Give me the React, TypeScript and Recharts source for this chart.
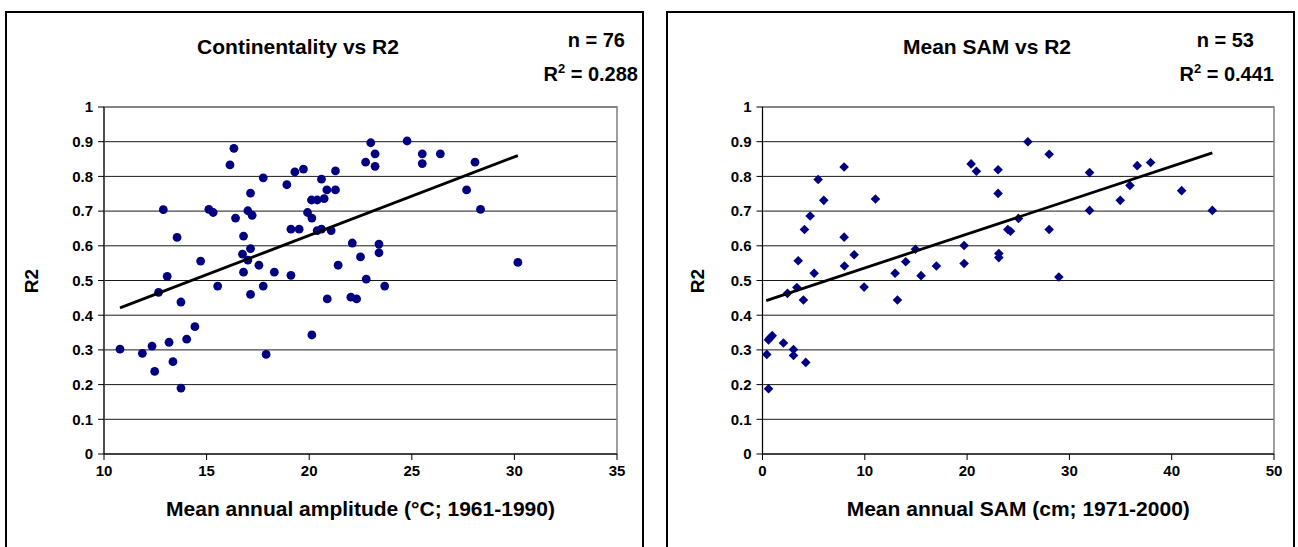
import React from "react";
import { ScatterChart, Scatter, XAxis, YAxis, CartesianGrid, ReferenceArea } from "recharts";

const FONT = '"Liberation Sans", Arial, sans-serif';

// Continentality vs R2 (n = 76)
const contAmplitude = [
  12.89, 13.56, 13.08, 12.66, 14.71, 15.11, 15.32, 15.54, 16.33, 16.14,
  16.41, 17.14, 17.01, 17.22, 16.8, 17.14, 16.75, 17.01, 16.8, 17.55,
  17.76, 17.76, 18.3, 18.91, 19.3, 19.72, 19.11, 19.51, 19.11, 20.6,
  20.86, 21.28, 21.28, 20.11, 20.39, 20.73, 19.92, 20.13, 20.39, 20.6,
  21.07, 21.41, 22.1, 22.5, 22.75, 22.78, 10.78, 11.87, 12.34, 12.47,
  13.17, 13.36, 13.75, 14.03, 14.43, 13.75, 17.14, 17.9, 20.13, 20.88,
  22.03, 22.31, 23.0, 24.77, 23.21, 23.21, 25.51, 25.51, 26.39, 28.08,
  27.67, 28.35, 23.4, 23.4, 23.68, 30.17,
];
const contR2 = [
  0.704, 0.624, 0.512, 0.466, 0.556, 0.705, 0.696, 0.484, 0.881, 0.833,
  0.68, 0.752, 0.701, 0.688, 0.628, 0.592, 0.576, 0.559, 0.524, 0.544,
  0.796, 0.484, 0.524, 0.776, 0.813, 0.821, 0.648, 0.648, 0.515, 0.792,
  0.761, 0.761, 0.816, 0.732, 0.732, 0.736, 0.696, 0.68, 0.644, 0.648,
  0.644, 0.544, 0.608, 0.568, 0.841, 0.504, 0.302, 0.29, 0.311, 0.238,
  0.322, 0.266, 0.438, 0.331, 0.367, 0.19, 0.46, 0.287, 0.343, 0.447,
  0.452, 0.447, 0.897, 0.902, 0.865, 0.829, 0.865, 0.837, 0.865, 0.841,
  0.761, 0.705, 0.605, 0.58, 0.484, 0.552,
];
const contTrendX = [10.78, 30.17];
const contTrendY = [0.421, 0.86];

// Mean SAM vs R2 (n = 53)
const samMean = [
  0.42, 0.59, 0.95, 0.59, 2.05, 2.44, 3.03, 3.03, 3.36, 3.49,
  4.0, 4.1, 4.23, 4.66, 5.05, 5.44, 5.99, 7.98, 7.98, 8.01,
  8.96, 9.93, 11.04, 12.96, 13.19, 14.0, 14.95, 15.5, 17.0, 19.71,
  19.71, 20.39, 20.91, 23.03, 23.03, 23.1, 23.1, 23.98, 24.24, 25.02,
  25.94, 28.02, 28.02, 28.97, 31.97, 31.97, 34.97, 35.92, 36.63, 37.94,
  40.97, 43.97, 0.75,
];
const samR2 = [
  0.287, 0.329, 0.341, 0.188, 0.32, 0.463, 0.301, 0.284, 0.48, 0.557,
  0.444, 0.647, 0.264, 0.686, 0.521, 0.791, 0.731, 0.827, 0.625, 0.542,
  0.574, 0.481, 0.735, 0.521, 0.444, 0.554, 0.59, 0.514, 0.542, 0.601,
  0.549, 0.836, 0.815, 0.819, 0.751, 0.578, 0.566, 0.647, 0.642, 0.679,
  0.9, 0.864, 0.647, 0.51, 0.811, 0.702, 0.731, 0.774, 0.831, 0.84,
  0.759, 0.702, 0.335,
];
const samTrendX = [0.36, 43.97];
const samTrendY = [0.442, 0.868];

const r2Ticks = [0, 0.1, 0.2, 0.3, 0.4, 0.5, 0.6, 0.7, 0.8, 0.9, 1];
const contTicks = [10, 15, 20, 25, 30, 35];
const samTicks = [0, 10, 20, 30, 40, 50];

const toPoints = (xs: number[], ys: number[]) => xs.map((x, i) => ({ x, y: ys[i] }));

const Dot = (p: any) => <circle cx={p.cx} cy={p.cy} r={4.4} fill="#000080" />;
const Diamond = (p: any) => {
  const s = 4.8;
  return (
    <path
      d={`M${p.cx},${p.cy - s}L${p.cx + s},${p.cy}L${p.cx},${p.cy + s}L${p.cx - s},${p.cy}Z`}
      fill="#000080"
    />
  );
};
const NoMark = () => <g />;

const tickStyle = { fill: "#000", fontSize: 15, fontWeight: "bold", fontFamily: FONT };

function Panel(props: any) {
  const { left, width, frameLeft, frameWidth, title, titleX, n, r2, statsRight, nRight, xLabel, xDomain, xTicks, points, trend, shape, plotLeft, plotRight, yLabelX } = props;
  const H = 547;
  const plotTop = 107;
  const plotBottom = 454;
  return (
    <div style={{ position: "absolute", left, top: 0, width, height: H }}>
      <div
        style={{
          position: "absolute",
          left: frameLeft,
          top: 11,
          width: frameWidth,
          height: 560,
          border: "2px solid #000",
          boxSizing: "border-box",
        }}
      />
      <ScatterChart
        width={width}
        height={H}
        margin={{ top: plotTop, right: width - plotRight, bottom: H - plotBottom - 30, left: plotLeft - 60 }}
        style={{ position: "absolute", left: 0, top: 0 }}
      >
        <CartesianGrid vertical={false} stroke="#000" strokeOpacity={0.9} />
        <ReferenceArea x1={xDomain[0]} x2={xDomain[1]} y1={0} y2={1} fill="none" stroke="#808080" strokeWidth={1.5} />
        <XAxis
          type="number"
          dataKey="x"
          domain={xDomain}
          ticks={xTicks}
          allowDataOverflow
          height={30}
          tickSize={6}
          tickMargin={5}
          tick={tickStyle}
          axisLine={{ stroke: "#000" }}
          tickLine={{ stroke: "#000" }}
          label={{
            value: xLabel,
            position: "bottom",
            offset: 17,
            style: { fill: "#000", fontSize: 21, fontWeight: "bold", fontFamily: FONT },
          }}
        />
        <YAxis
          type="number"
          dataKey="y"
          domain={[0, 1]}
          ticks={r2Ticks}
          width={60}
          tickSize={6}
          tickMargin={5}
          tick={tickStyle}
          axisLine={{ stroke: "#000" }}
          tickLine={{ stroke: "#000" }}
        />
        <Scatter data={points} shape={shape} isAnimationActive={false} />
        <Scatter
          data={trend}
          line={{ stroke: "#000", strokeWidth: 2.8 }}
          shape={NoMark}
          isAnimationActive={false}
        />
      </ScatterChart>
      <div
        style={{
          position: "absolute",
          left: titleX - 200,
          width: 400,
          top: 34,
          textAlign: "center",
          fontFamily: FONT,
          fontWeight: "bold",
          fontSize: 21,
          lineHeight: "26px",
        }}
      >
        {title}
      </div>
      <div
        style={{
          position: "absolute",
          right: width - nRight,
          top: 28,
          fontFamily: FONT,
          fontWeight: "bold",
          fontSize: 20,
          lineHeight: "24px",
          whiteSpace: "nowrap",
        }}
      >
        n = {n}
      </div>
      <div
        style={{
          position: "absolute",
          right: width - statsRight,
          top: 62,
          fontFamily: FONT,
          fontWeight: "bold",
          fontSize: 20,
          lineHeight: "24px",
          whiteSpace: "nowrap",
        }}
      >
        R<sup style={{ fontSize: 13, verticalAlign: "8px", lineHeight: 0 }}>2</sup> = {r2}
      </div>
      <div
        style={{
          position: "absolute",
          left: yLabelX - 30,
          top: 270,
          width: 60,
          textAlign: "center",
          transform: "rotate(-90deg)",
          fontFamily: FONT,
          fontWeight: "bold",
          fontSize: 19,
          lineHeight: "22px",
        }}
      >
        R2
      </div>
    </div>
  );
}

export default function App() {
  const contPoints = toPoints(contAmplitude, contR2);
  const contTrend = toPoints(contTrendX, contTrendY);
  const samPoints = toPoints(samMean, samR2);
  const samTrend = toPoints(samTrendX, samTrendY);
  return (
    <div
      style={{
        position: "absolute",
        left: 0,
        top: 0,
        width: 1298,
        height: 547,
        overflow: "hidden",
        background: "#fff",
      }}
    >
      <Panel
        left={0}
        width={650}
        frameLeft={5}
        frameWidth={639}
        title="Continentality vs R2"
        titleX={298}
        n={76}
        r2="0.288"
        nRight={625}
        statsRight={638}
        xLabel="Mean annual amplitude (°C; 1961-1990)"
        xDomain={[10, 35]}
        xTicks={contTicks}
        points={contPoints}
        trend={contTrend}
        shape={Dot}
        plotLeft={104}
        plotRight={617}
        yLabelX={32}
      />
      <Panel
        left={650}
        width={648}
        frameLeft={16}
        frameWidth={629}
        title="Mean SAM vs R2"
        titleX={337}
        n={53}
        r2="0.441"
        nRight={604}
        statsRight={624}
        xLabel="Mean annual SAM (cm; 1971-2000)"
        xDomain={[0, 50]}
        xTicks={samTicks}
        points={samPoints}
        trend={samTrend}
        shape={Diamond}
        plotLeft={112.5}
        plotRight={624}
        yLabelX={48}
      />
    </div>
  );
}
